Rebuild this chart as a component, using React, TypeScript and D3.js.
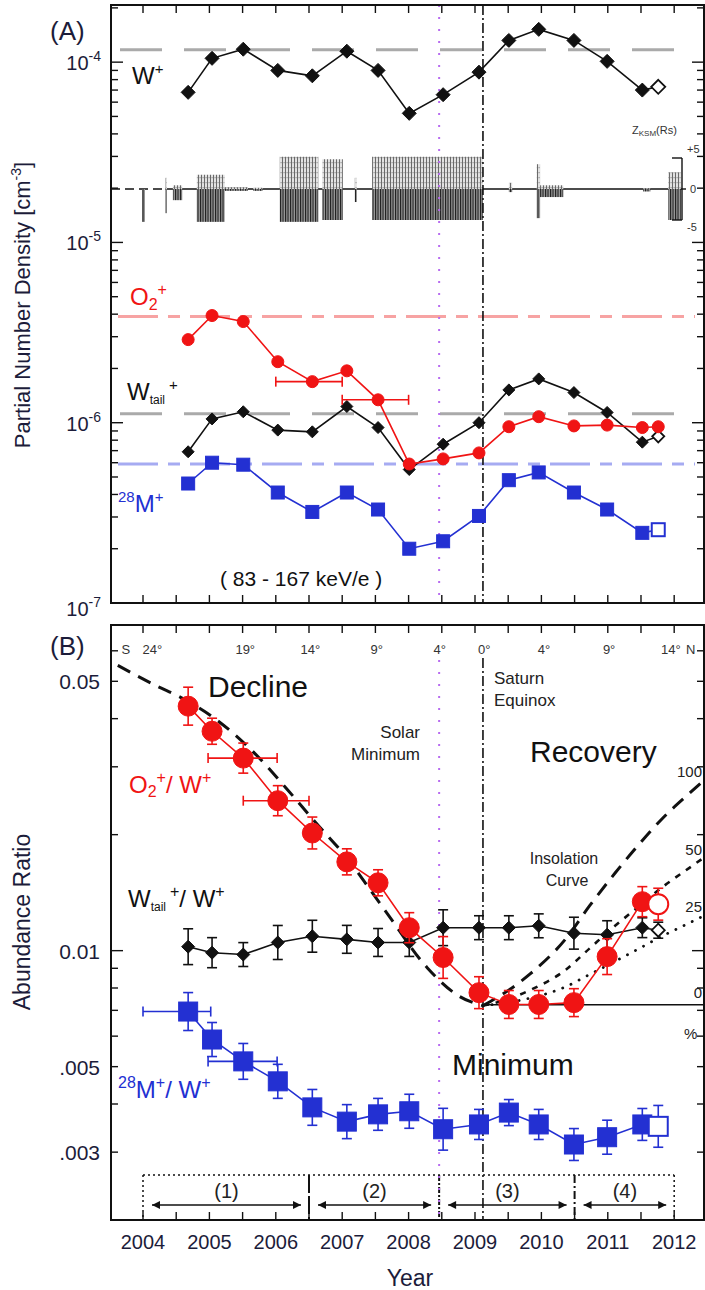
import React from "react";
import * as d3 from "d3";

// season mid-times (year) of the filled symbols, plus the last open symbol
const seasonYears = [2004.68, 2005.04, 2005.51, 2006.03, 2006.55, 2007.07, 2007.54, 2008.01, 2008.52, 2009.06, 2009.51, 2009.96, 2010.49, 2010.99, 2011.52];
const lastYear = 2011.76;

// panel A: partial number densities [cm-3]
const wPlus = [6.8e-5, 1.05e-4, 1.18e-4, 9.0e-5, 8.4e-5, 1.15e-4, 9.0e-5, 5.2e-5, 6.6e-5, 8.8e-5, 1.32e-4, 1.52e-4, 1.32e-4, 1.01e-4, 7.0e-5];
const wPlusLast = 7.3e-5;
const o2Plus = [2.89e-6, 3.93e-6, 3.64e-6, 2.18e-6, 1.69e-6, 1.94e-6, 1.34e-6, 5.9e-7, 6.3e-7, 6.8e-7, 9.5e-7, 1.08e-6, 9.6e-7, 9.7e-7, 9.4e-7];
const o2PlusLast = 9.5e-7;
const wTail = [6.9e-7, 1.05e-6, 1.15e-6, 9.1e-7, 8.9e-7, 1.23e-6, 9.4e-7, 5.5e-7, 7.6e-7, 1.0e-6, 1.52e-6, 1.75e-6, 1.47e-6, 1.14e-6, 7.8e-7];
const wTailLast = 8.4e-7;
const m28 = [4.6e-7, 6.0e-7, 5.85e-7, 4.1e-7, 3.2e-7, 4.1e-7, 3.3e-7, 2.0e-7, 2.2e-7, 3.04e-7, 4.8e-7, 5.3e-7, 4.1e-7, 3.3e-7, 2.45e-7];
const m28Last = 2.55e-7;
const refLevels = { wPlus: 1.17e-4, o2: 3.88e-6, wTail: 1.12e-6, m28: 5.9e-7 };
const o2XErrA = [[4, 2006.0, 2007.0], [6, 2007.0, 2008.0]];

// Z_KSM inset: [start year, end year, z min, z max] (Rs)
const zSegments = [
  [2003.985, 2004.03, -5.3, 0],
  [2004.34, 2004.36, -3.9, 1.8],
  [2004.45, 2004.59, -1.8, 0.6],
  [2004.81, 2005.23, -5.3, 2.3],
  [2005.23, 2005.58, -0.3, 0.3],
  [2005.66, 2005.8, -0.3, 0.2],
  [2006.06, 2006.64, -5.3, 5.2],
  [2006.7, 2007.01, -5.0, 4.8],
  [2007.19, 2007.22, -2.1, 1.8],
  [2007.45, 2009.12, -5.0, 5.2],
  [2009.51, 2009.56, -0.5, 1.0],
  [2009.93, 2009.98, -4.7, 4.0],
  [2009.98, 2010.33, -1.3, 0.6],
  [2011.53, 2011.64, -0.4, 0.1],
  [2011.91, 2012.1, -5.0, 2.7],
];

// panel B: abundance ratios and relative errors
const o2Ratio = [0.0431, 0.0371, 0.0316, 0.0245, 0.0202, 0.017, 0.015, 0.01147, 0.0096, 0.00778, 0.00725, 0.00725, 0.00733, 0.00965, 0.0134];
const o2RatioErr = [0.12, 0.081, 0.094, 0.094, 0.1, 0.081, 0.081, 0.094, 0.133, 0.1, 0.087, 0.087, 0.087, 0.113, 0.094];
const o2RatioLast = 0.0132;
const o2RatioLastErr = 0.1;
const tailRatio = [0.01024, 0.00988, 0.00977, 0.0105, 0.0109, 0.0107, 0.0105, 0.0105, 0.01147, 0.01147, 0.01147, 0.0116, 0.0111, 0.011, 0.01147];
const tailRatioErr = [0.113, 0.094, 0.074, 0.107, 0.1, 0.087, 0.087, 0.087, 0.113, 0.074, 0.074, 0.074, 0.1, 0.087, 0.061];
const tailRatioLast = 0.0113;
const tailRatioLastErr = 0.049;
const m28Ratio = [0.00695, 0.00588, 0.00516, 0.00458, 0.00392, 0.0036, 0.00376, 0.00383, 0.00344, 0.00354, 0.0038, 0.00354, 0.00314, 0.00328, 0.00354];
const m28RatioErr = [0.12, 0.107, 0.113, 0.107, 0.113, 0.107, 0.1, 0.107, 0.133, 0.094, 0.081, 0.094, 0.1, 0.107, 0.1];
const m28RatioLast = 0.0035;
const m28RatioLastErr = 0.133;
const o2XErrB = [[2, 2004.98, 2006.02], [3, 2005.51, 2006.5]];
const m28XErrB = [[0, 2004.0, 2005.02], [2, 2004.98, 2006.02]];

// dashed decline curve and insolation curves (100 / 50 / 25 / 0 %)
const declineYears = [2003.62, 2004.21, 2004.56, 2005.05, 2005.66, 2006.14, 2006.6, 2007.07, 2007.42, 2007.69, 2008.28, 2008.77, 2009.12];
const declineVals = [0.055, 0.0486, 0.0455, 0.0404, 0.0328, 0.0266, 0.0215, 0.0174, 0.0144, 0.0124, 0.00903, 0.0076, 0.0072];
const insolYears = [2009.12, 2009.41, 2009.83, 2010.36, 2010.73, 2011.11, 2011.45, 2011.83, 2012.24, 2012.45];
const insol100 = [0.0072, 0.0077, 0.0087, 0.0107, 0.0131, 0.0159, 0.0187, 0.0221, 0.0257, 0.0277];
const insol50 = [0.0072, 0.0074, 0.0079, 0.0089, 0.01015, 0.0116, 0.01295, 0.01465, 0.01645, 0.01745];
const insol25 = [0.0072, 0.0073, 0.00753, 0.00805, 0.00868, 0.00938, 0.01008, 0.01093, 0.01183, 0.01233];
const insolZero = 0.00724;

const solarMin = 2008.46;
const equinox = 2009.12;
const periodEdges = [2004, 2006.5, 2008.46, 2010.5, 2012];
const periodLabels = ["(1)", "(2)", "(3)", "(4)"];
const latLabels = ["S", "24°", "19°", "14°", "9°", "4°", "0°", "4°", "9°", "14°", "N"];
const latYears = [2003.74, 2004.14, 2005.54, 2006.52, 2007.52, 2008.47, 2009.14, 2010.04, 2011.02, 2011.95, 2012.25];
const yearLabels = [2004, 2005, 2006, 2007, 2008, 2009, 2010, 2011, 2012];
const ratioTickLabels = [[0.05, "0.05"], [0.01, "0.01"], [0.005, ".005"], [0.003, ".003"]];
const insolLabels = [["100", 777], ["50", 855], ["25", 912], ["0", 998]];

const RED = "#f01414";
const BLUE = "#2330d2";
const FONT = "'Liberation Sans', Arial, Helvetica, sans-serif";

const left = 111, right = 704;
const aTop = 5, aBot = 603, bTop = 625, bBot = 1220;

const x = d3.scaleLinear().domain([2003.518, 2012.449]).range([left, right]);
const yA = d3.scaleLog().domain([1e-7, Math.pow(10, -3.683)]).range([aBot, aTop]);
const yB = d3.scaleLog().domain([0.002, 0.07]).range([bBot, bTop]);
const yZ = d3.scaleLinear().domain([-5, 5]).range([220, 158]);

const diamond = (cx, cy, s) => `M${cx},${cy - s}L${cx + s},${cy}L${cx},${cy + s}L${cx - s},${cy}Z`;

function Marker({ shape, cx, cy, size, color, open }) {
  const fill = open ? "white" : color;
  if (shape === "circle") return <circle cx={cx} cy={cy} r={size} fill={fill} stroke={color} strokeWidth={open ? 2 : 1} />;
  if (shape === "square")
    return <rect x={cx - size} y={cy - size} width={size * 2} height={size * 2} fill={fill} stroke={color} strokeWidth={open ? 2 : 1} />;
  return <path d={diamond(cx, cy, size)} fill={fill} stroke={color} strokeWidth={open ? 1.8 : 1} />;
}

function Series({ vals, last, y, color, shape, size, lastOpen, errs, lastErr, xErrs }) {
  const pts = seasonYears.map((t, i) => [t, vals[i]]);
  const all = [...pts, [lastYear, last]];
  const line = d3.line().x((d) => x(d[0])).y((d) => y(d[1]));
  const errAll = errs ? [...errs, lastErr] : null;
  return (
    <g>
      <path d={line(all)} fill="none" stroke={color} strokeWidth={1.6} />
      {errAll &&
        all.map((d, i) => {
          const cx = x(d[0]);
          const y0 = y(d[1] * (1 + errAll[i]));
          const y1 = y(d[1] / (1 + errAll[i]));
          return (
            <g key={"e" + i} stroke={color} strokeWidth={1.6}>
              <line x1={cx} x2={cx} y1={y0} y2={y1} />
              <line x1={cx - 5} x2={cx + 5} y1={y0} y2={y0} />
              <line x1={cx - 5} x2={cx + 5} y1={y1} y2={y1} />
            </g>
          );
        })}
      {(xErrs || []).map(([i, lo, hi]) => {
        const cy = y(vals[i]);
        return (
          <g key={"h" + i} stroke={color} strokeWidth={1.6}>
            <line x1={x(lo)} x2={x(hi)} y1={cy} y2={cy} />
            <line x1={x(lo)} x2={x(lo)} y1={cy - 5} y2={cy + 5} />
            <line x1={x(hi)} x2={x(hi)} y1={cy - 5} y2={cy + 5} />
          </g>
        );
      })}
      {all.map((d, i) => (
        <Marker key={i} shape={shape} cx={x(d[0])} cy={y(d[1])} size={size} color={color} open={lastOpen && i === all.length - 1} />
      ))}
    </g>
  );
}

function LogTicks({ scale, values, majors, len }) {
  return (
    <g stroke="#111" strokeWidth={1.4}>
      {values.map((v, i) => {
        const yy = scale(v);
        const l = majors.some((m) => Math.abs(m - v) / v < 1e-6) ? len : 7;
        return (
          <g key={i}>
            <line x1={left} x2={left + l} y1={yy} y2={yy} />
            <line x1={right} x2={right - l} y1={yy} y2={yy} />
          </g>
        );
      })}
    </g>
  );
}

function XTicks({ top, bottom }) {
  const ticks = d3.range(2004, 2012.01, 0.5);
  return (
    <g stroke="#111" strokeWidth={1.4}>
      {ticks.map((t) => (
        <g key={t}>
          <line x1={x(t)} x2={x(t)} y1={top} y2={top + 8} />
          <line x1={x(t)} x2={x(t)} y1={bottom} y2={bottom - 8} />
        </g>
      ))}
    </g>
  );
}

export default function App() {
  const ticksA = [];
  for (let k = -7; k <= -4; k++) for (let m = 1; m <= 9; m++) if (m * Math.pow(10, k) <= yA.domain()[1]) ticksA.push(m * Math.pow(10, k));
  const ticksB = [];
  for (let m = 3; m <= 9; m++) ticksB.push(m * 0.001);
  for (let m = 1; m <= 6; m++) ticksB.push(m * 0.01);

  const curve = (xs, vs) => d3.line().curve(d3.curveMonotoneX).x((d, i) => x(xs[i])).y((d, i) => yB(vs[i]))(vs);
  const zRight = 682;

  return (
    <svg width={705} height={1290} style={{ position: "absolute", left: 0, top: 0, background: "white" }} fontFamily={FONT}>
      <defs>
        <pattern id="zLight" width="3" height="5" patternUnits="userSpaceOnUse">
          <rect width="3" height="5" fill="#e2e2e2" />
          <rect width="1" height="5" fill="#6a6a6a" />
          <rect x="1.5" y="2" width="1.2" height="1.2" fill="#999" />
        </pattern>
        <pattern id="zDark" width="2.5" height="6" patternUnits="userSpaceOnUse">
          <rect width="2.5" height="6" fill="#9a9a9a" />
          <rect width="1.1" height="6" fill="#1a1a1a" />
        </pattern>
        <marker id="ah" viewBox="0 0 10 10" refX="10" refY="5" markerWidth="10" markerHeight="8" orient="auto-start-reverse" markerUnits="userSpaceOnUse">
          <path d="M0,0L10,5L0,10Z" fill="#111" />
        </marker>
      </defs>

      {/* ---------------- Panel A ---------------- */}
      <text x={50} y={40} fontSize={26} fill="#1c1c3a">(A)</text>

      {/* reference levels */}
      <line x1={120} x2={695} y1={yA(refLevels.wPlus)} y2={yA(refLevels.wPlus)} stroke="#aaa" strokeWidth={3} strokeDasharray="42,22" />
      <line x1={118} x2={695} y1={yA(refLevels.o2)} y2={yA(refLevels.o2)} stroke="#f7a3a3" strokeWidth={3} strokeDasharray="40,10,12,10" />
      <line x1={120} x2={682} y1={yA(refLevels.wTail)} y2={yA(refLevels.wTail)} stroke="#aaa" strokeWidth={3} strokeDasharray="42,22" />
      <line x1={118} x2={695} y1={yA(refLevels.m28)} y2={yA(refLevels.m28)} stroke="#a6abf2" strokeWidth={3} strokeDasharray="40,10,12,10" />

      {/* Z_KSM inset */}
      <line x1={left} x2={x(2004.34)} y1={yZ(0)} y2={yZ(0)} stroke="#111" strokeWidth={1.6} strokeDasharray="9,5" />
      <line x1={x(2004.34)} x2={zRight} y1={yZ(0)} y2={yZ(0)} stroke="#111" strokeWidth={1.6} />
      {zSegments.map(([t0, t1, lo, hi], i) => {
        const x0 = x(t0);
        const w = Math.max(x(t1) - x0, 1.4);
        return (
          <g key={i}>
            {hi > 0 && <rect x={x0} y={yZ(hi)} width={w} height={yZ(0) - yZ(hi)} fill="url(#zLight)" />}
            {lo < 0 && <rect x={x0} y={yZ(0)} width={w} height={yZ(lo) - yZ(0)} fill="url(#zDark)" />}
          </g>
        );
      })}
      <g stroke="#111" strokeWidth={1.4}>
        <line x1={zRight} x2={zRight} y1={yZ(5)} y2={yZ(-5)} />
        <line x1={zRight - 10} x2={zRight} y1={yZ(5)} y2={yZ(5)} />
        <line x1={zRight - 10} x2={zRight} y1={yZ(-5)} y2={yZ(-5)} />
        <line x1={zRight} x2={zRight + 4} y1={yZ(0)} y2={yZ(0)} />
      </g>
      <g fontSize={11} fill="#333">
        <text x={632} y={134}>Z<tspan fontSize={8} dy={2}>KSM</tspan><tspan dy={-2}>(Rs)</tspan></text>
        <text x={687} y={yZ(5) - 5}>+5</text>
        <text x={690} y={yZ(0) + 4}>0</text>
        <text x={687} y={yZ(-5) + 11}>-5</text>
      </g>

      {/* vertical markers */}
      <line x1={x(solarMin)} x2={x(solarMin)} y1={aTop} y2={aBot} stroke="#b86cf0" strokeWidth={2} strokeDasharray="2,10" />
      <line x1={x(equinox)} x2={x(equinox)} y1={aTop} y2={aBot} stroke="#111" strokeWidth={1.6} strokeDasharray="10,3,2,3" />

      <Series vals={wPlus} last={wPlusLast} y={yA} color="#111" shape="diamond" size={7} lastOpen />
      <Series vals={wTail} last={wTailLast} y={yA} color="#111" shape="diamond" size={6} lastOpen />
      <Series vals={o2Plus} last={o2PlusLast} y={yA} color={RED} shape="circle" size={6} xErrs={o2XErrA} />
      <Series vals={m28} last={m28Last} y={yA} color={BLUE} shape="square" size={6.5} lastOpen />

      {/* panel A labels */}
      <text x={132} y={84} fontSize={24} fill="#111">W<tspan fontSize={15} dy={-10}>+</tspan></text>
      <text x={130} y={305} fontSize={24} fill={RED}>O<tspan fontSize={16} dy={5}>2</tspan><tspan fontSize={16} dy={-15}>+</tspan></text>
      <text x={127} y={400} fontSize={24} fill="#111">W<tspan fontSize={12} dy={4}>tail</tspan><tspan fontSize={15} dx={4} dy={-14}>+</tspan></text>
      <text x={118} y={512} fontSize={24} fill={BLUE}><tspan fontSize={15} dy={-10}>28</tspan><tspan dy={10}>M</tspan><tspan fontSize={15} dy={-10}>+</tspan></text>
      <text x={220} y={586} fontSize={21} fill="#111">( 83 - 167 keV/e )</text>

      {/* panel A axes */}
      <LogTicks scale={yA} values={ticksA} majors={[1e-7, 1e-6, 1e-5, 1e-4]} len={12} />
      <XTicks top={aTop} bottom={aBot} />
      <rect x={left} y={aTop} width={right - left} height={aBot - aTop} fill="none" stroke="#111" strokeWidth={2} />
      {[-4, -5, -6, -7].map((k) => (
        <text key={k} x={101} y={yA(Math.pow(10, k)) + (k === -7 ? 13 : 8)} fontSize={20} textAnchor="end" fill="#1c1c3a">
          10<tspan fontSize={14} dy={-9}>{k}</tspan>
        </text>
      ))}
      <text transform="translate(30,305) rotate(-90)" fontSize={22} textAnchor="middle" fill="#1c1c3a">
        Partial Number Density [cm<tspan fontSize={14} dy={-9}>-3</tspan><tspan dy={9}>]</tspan>
      </text>

      {/* ---------------- Panel B ---------------- */}
      <text x={50} y={655} fontSize={26} fill="#1c1c3a">(B)</text>

      {/* periods box */}
      <g stroke="#111" strokeWidth={1.5} fill="none">
        <line x1={x(2004)} x2={x(2012)} y1={1175} y2={1175} strokeDasharray="2,3" />
        <line x1={x(2004)} x2={x(2004)} y1={1175} y2={bBot} strokeDasharray="2,3" />
        <line x1={x(2012)} x2={x(2012)} y1={1175} y2={bBot} strokeDasharray="2,3" />
        <line x1={x(periodEdges[1])} x2={x(periodEdges[1])} y1={1175} y2={bBot} strokeDasharray="18,3" strokeWidth={2} />
        <line x1={x(periodEdges[2])} x2={x(periodEdges[2])} y1={1175} y2={bBot} strokeDasharray="6,2,2,2" strokeWidth={2} />
        <line x1={x(periodEdges[3])} x2={x(periodEdges[3])} y1={1175} y2={bBot} strokeDasharray="8,3,2,3" strokeWidth={2} />
      </g>
      {periodLabels.map((lab, i) => {
        const a = x(periodEdges[i]) + 9;
        const b = x(periodEdges[i + 1]) - 8;
        return (
          <g key={lab}>
            <line x1={a} x2={b} y1={1205} y2={1205} stroke="#111" strokeWidth={1.6} markerStart="url(#ah)" markerEnd="url(#ah)" />
            <text x={(a + b) / 2} y={1198} fontSize={20} textAnchor="middle" fill="#222">{lab}</text>
          </g>
        );
      })}

      {/* vertical markers */}
      <line x1={x(solarMin)} x2={x(solarMin)} y1={660} y2={bBot + 2} stroke="#b86cf0" strokeWidth={2} strokeDasharray="2,10" />
      <line x1={x(equinox)} x2={x(equinox)} y1={658} y2={bBot} stroke="#111" strokeWidth={1.6} strokeDasharray="10,3,2,3" />

      {/* decline and insolation curves */}
      <path d={curve(declineYears, declineVals)} fill="none" stroke="#111" strokeWidth={3} strokeDasharray="14,9" />
      <path d={curve(insolYears, insol100)} fill="none" stroke="#111" strokeWidth={3} strokeDasharray="14,9" />
      <path d={curve(insolYears, insol50)} fill="none" stroke="#111" strokeWidth={2.6} strokeDasharray="6,7" />
      <path d={curve(insolYears, insol25)} fill="none" stroke="#111" strokeWidth={2.8} strokeDasharray="0.1,9" strokeLinecap="round" />
      <line x1={x(equinox)} x2={right} y1={yB(insolZero)} y2={yB(insolZero)} stroke="#111" strokeWidth={1.6} />

      <Series vals={tailRatio} last={tailRatioLast} y={yB} color="#111" shape="diamond" size={6.5} lastOpen errs={tailRatioErr} lastErr={tailRatioLastErr} />
      <Series vals={m28Ratio} last={m28RatioLast} y={yB} color={BLUE} shape="square" size={9.5} lastOpen errs={m28RatioErr} lastErr={m28RatioLastErr} xErrs={m28XErrB} />
      <Series vals={o2Ratio} last={o2RatioLast} y={yB} color={RED} shape="circle" size={10} lastOpen errs={o2RatioErr} lastErr={o2RatioLastErr} xErrs={o2XErrB} />

      {/* panel B annotations */}
      <text x={208} y={697} fontSize={30} fill="#111">Decline</text>
      <text x={530} y={762} fontSize={30} fill="#111">Recovery</text>
      <text x={452} y={1075} fontSize={30} fill="#111">Minimum</text>
      <g fontSize={17} fill="#222">
        <text x={420} y={738} textAnchor="end">Solar</text>
        <text x={420} y={760} textAnchor="end">Minimum</text>
        <text x={494} y={684}>Saturn</text>
        <text x={494} y={706}>Equinox</text>
      </g>
      <g fontSize={16} fill="#222" textAnchor="middle">
        <text x={564} y={864}>Insolation</text>
        <text x={567} y={886}>Curve</text>
      </g>
      <text x={129} y={793} fontSize={24} fill={RED}>
        O<tspan fontSize={16} dy={4}>2</tspan><tspan fontSize={16} dy={-14}>+</tspan><tspan dy={10}>/ W</tspan><tspan fontSize={16} dy={-10}>+</tspan>
      </text>
      <text x={128} y={907} fontSize={24} fill="#111">
        W<tspan fontSize={12} dy={4}>tail</tspan><tspan fontSize={16} dx={4} dy={-14}>+</tspan><tspan dy={10}>/ W</tspan><tspan fontSize={16} dy={-10}>+</tspan>
      </text>
      <text x={118} y={1098} fontSize={24} fill={BLUE}>
        <tspan fontSize={16} dy={-10}>28</tspan><tspan dy={10}>M</tspan><tspan fontSize={16} dy={-10}>+</tspan><tspan dy={10}>/ W</tspan><tspan fontSize={16} dy={-10}>+</tspan>
      </text>
      <g fontSize={15} fill="#222">
        {insolLabels.map(([lab, yy]) => (
          <text key={lab} x={right - 2} y={yy} textAnchor="end">{lab}</text>
        ))}
        <text x={684} y={1039}>%</text>
      </g>

      {/* panel B axes */}
      <LogTicks scale={yB} values={ticksB} majors={[0.01]} len={12} />
      <XTicks top={bTop} bottom={bBot} />
      <rect x={left} y={bTop} width={right - left} height={bBot - bTop} fill="none" stroke="#111" strokeWidth={2} />
      <g fontSize={13} fill="#333" textAnchor="middle">
        {latLabels.map((lab, i) => (
          <text key={i} x={x(latYears[i])} y={654}>{lab}</text>
        ))}
      </g>
      {ratioTickLabels.map(([v, lab]) => (
        <text key={lab} x={100} y={yB(v) + 8} fontSize={21} textAnchor="end" fill="#1c1c3a">{lab}</text>
      ))}
      {yearLabels.map((yr) => (
        <text key={yr} x={x(yr)} y={1249} fontSize={20} textAnchor="middle" fill="#1c1c3a">{yr}</text>
      ))}
      <text x={410} y={1286} fontSize={23} textAnchor="middle" fill="#1c1c3a">Year</text>
      <text transform="translate(30,922) rotate(-90)" fontSize={23} textAnchor="middle" fill="#1c1c3a">Abundance Ratio</text>
    </svg>
  );
}
